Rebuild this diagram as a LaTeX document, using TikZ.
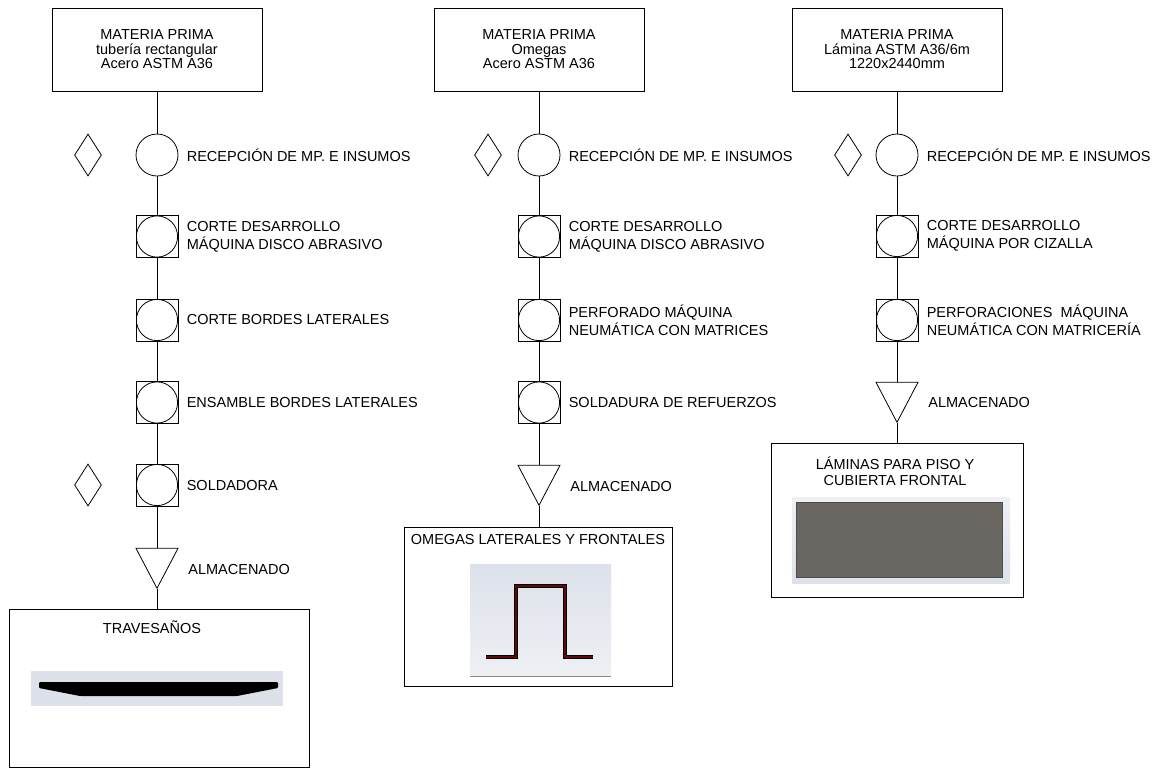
\documentclass[tikz,border=0pt]{standalone}
\usepackage{fontspec}
\setmainfont{Liberation Sans}
\usetikzlibrary{shapes.geometric,positioning}

\definecolor{fondo}{HTML}{DDE1EA}
\definecolor{fondoclaro}{HTML}{EEF0F4}
\definecolor{chapa}{HTML}{6A6662}
\definecolor{granate}{HTML}{5E0A0A}

\tikzset{
 paso/.style={draw,circle,minimum size=42,inner sep=0},
 opera/.style={draw,rectangle,minimum size=42,inner sep=0,
  path picture={\draw (path picture bounding box.center) circle[radius=20.6pt];}},
 insp/.style={draw,diamond,minimum width=27,minimum height=42,inner sep=0},
 alma/.style={draw,isosceles triangle,isosceles triangle stretches,
  shape border rotate=270,minimum width=42,minimum height=40,inner sep=0},
 mp/.style={draw,rectangle,minimum width=210,minimum height=83,align=center,
  font=\fontsize{14.5}{14.5}\selectfont},
 etq/.style={anchor=west,align=left,inner sep=0,font=\fontsize{14.5}{18}\selectfont},
 prod/.style={draw,rectangle,inner sep=0},
 tit/.style={inner sep=0,align=center,font=\fontsize{14.5}{16}\selectfont}
}

\begin{document}
\begin{tikzpicture}[x=1pt,y=-1pt,line width=0.8pt]
 \useasboundingbox (0,0) rectangle (1164,769); %全体

 % 列1 travesaños
 \node[mp] (mp1) at (157,49.5) {MATERIA PRIMA\\tubería rectangular\\Acero ASTM A36};
 \node[paso] (r1) at (157,155) {};
 \node[insp] (d11) at (88,155) {};
 \node[opera] (o11) at (157,236.5) {};
 \node[opera] (o12) at (157,320) {};
 \node[opera] (o13) at (157,402.5) {};
 \node[opera] (o14) at (157,485) {};
 \node[insp] (d12) at (88,485) {};
 \node[alma] (t1) at (157,561) {};
 \node[prod,minimum width=300,minimum height=158] (pr1) at (159,688) {};
 \draw (mp1) -- (r1) -- (o11) -- (o12) -- (o13) -- (o14) -- (t1);
 \draw (t1) -- (t1 |- pr1.north);
 \node[etq,right=8pt of r1] (l1) {RECEPCIÓN DE MP. E INSUMOS};
 \node[etq,right=8pt of o11] (l11) {CORTE DESARROLLO\\MÁQUINA DISCO ABRASIVO};
 \node[etq,right=8pt of o12] (l12) {CORTE BORDES LATERALES};
 \node[etq,right=8pt of o13] (l13) {ENSAMBLE BORDES LATERALES};
 \node[etq,right=8pt of o14] (l14) {SOLDADORA};
 \node[etq] (a1) at (188,569) {ALMACENADO};
 \node[tit] (tit1) at (152,627) {TRAVESAÑOS};
 \fill[fondo] (31,671) rectangle (283,706); %perfil
 \fill[rounded corners=1pt] (39,682) -- (278,682) -- (278,688) -- (237,696)
  -- (80,696) -- (39,688) -- cycle;

 % 列2 omegas
 \node[mp] (mp2) at (539,49.5) {MATERIA PRIMA\\Omegas\\Acero ASTM A36};
 \node[paso] (r2) at (539,155) {};
 \node[insp] (d21) at (488,155) {};
 \node[opera] (o21) at (539,236.5) {};
 \node[opera] (o22) at (539,320) {};
 \node[opera] (o23) at (539,402.5) {};
 \node[alma] (t2) at (539,478) {};
 \node[prod,minimum width=268,minimum height=159] (pr2) at (538,606.5) {};
 \draw (mp2) -- (r2) -- (o21) -- (o22) -- (o23) -- (t2);
 \draw (t2) -- (t2 |- pr2.north);
 \node[etq,right=8pt of r2] (l2) {RECEPCIÓN DE MP. E INSUMOS};
 \node[etq,right=8pt of o21] (l21) {CORTE DESARROLLO\\MÁQUINA DISCO ABRASIVO};
 \node[etq,right=8pt of o22] (l22) {PERFORADO MÁQUINA\\NEUMÁTICA CON MATRICES};
 \node[etq,right=8pt of o23] (l23) {SOLDADURA DE REFUERZOS};
 \node[etq] (a2) at (570,486) {ALMACENADO};
 \node[tit] (tit2) at (538,539) {OMEGAS LATERALES Y FRONTALES};
 \shade[top color=fondo,bottom color=fondoclaro] (470,564) rectangle (611,676);
 \draw[black!45] (470,676) -- (611,676);
 \draw[line width=4.5pt,miter limit=10] (486,657) -- (516,657) -- (516,586)
  -- (565,586) -- (565,657) -- (593,657); %omega
 \draw[granate,line width=2.2pt,miter limit=10] (486,657) -- (516,657) -- (516,586)
  -- (565,586) -- (565,657) -- (593,657);

 % 列3 láminas
 \node[mp] (mp3) at (897,49.5) {MATERIA PRIMA\\Lámina ASTM A36/6m\\1220x2440mm};
 \node[paso] (r3) at (897,155) {};
 \node[insp] (d31) at (848,155) {};
 \node[opera] (o31) at (897,236) {};
 \node[opera] (o32) at (897,320) {};
 \node[alma] (t3) at (897,395) {};
 \node[prod,minimum width=252,minimum height=154] (pr3) at (897,520) {};
 \draw (mp3) -- (r3) -- (o31) -- (o32) -- (t3);
 \draw (t3) -- (t3 |- pr3.north);
 \node[etq,right=8pt of r3] (l3) {RECEPCIÓN DE MP. E INSUMOS};
 \node[etq,right=8pt of o31] (l31) {CORTE DESARROLLO\\MÁQUINA POR CIZALLA};
 \node[etq,right=8pt of o32] (l32) {PERFORACIONES\ \ MÁQUINA\\NEUMÁTICA CON MATRICERÍA};
 \node[etq] (a3) at (928,403) {ALMACENADO};
 \node[tit] (tit3) at (895,471) {LÁMINAS PARA PISO Y\\CUBIERTA FRONTAL};
 \shade[top color=fondoclaro,bottom color=fondo] (792,497) rectangle (1010,583); %lámina
 \filldraw[fill=chapa,draw=black!70,line width=0.6pt] (796,502) rectangle (1002,577);
\end{tikzpicture}
\end{document}
